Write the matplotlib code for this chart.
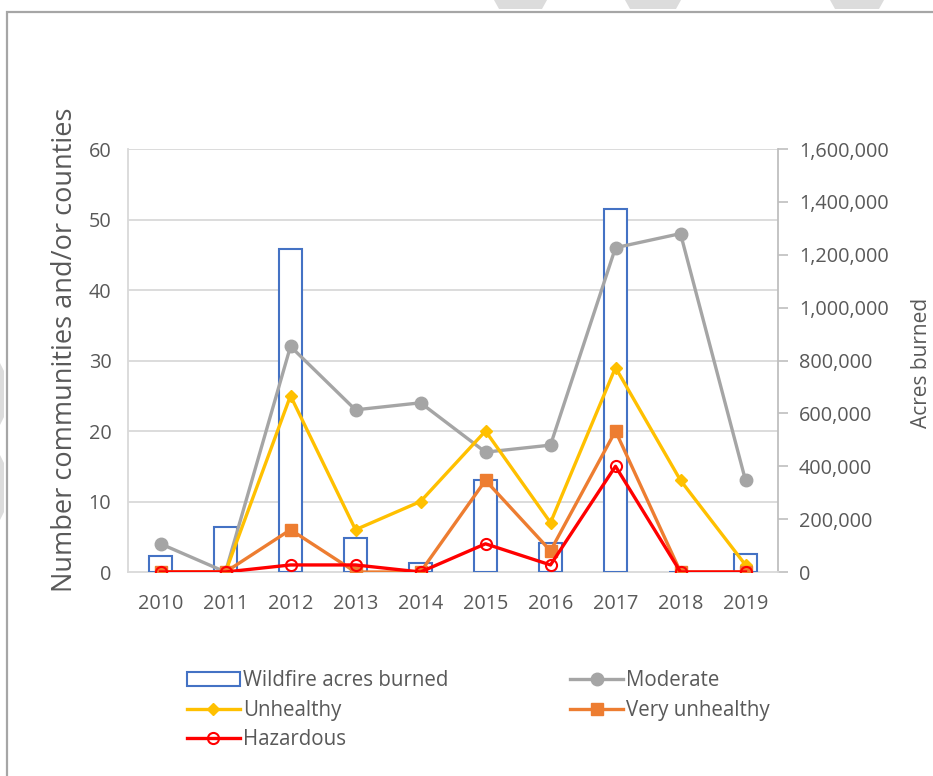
import matplotlib
matplotlib.use("Agg")
import matplotlib.pyplot as plt
from matplotlib.patches import Rectangle, Polygon
from matplotlib.ticker import FuncFormatter, MultipleLocator

plt.rcParams['font.family'] = ['Open Sans', 'DejaVu Sans']

years = ['2010', '2011', '2012', '2013', '2014', '2015', '2016', '2017', '2018', '2019']
acres = [61000, 171000, 1222000, 127000, 35000, 348000, 111000, 1372000, 0, 67000]
moderate = [4, 0, 32, 23, 24, 17, 18, 46, 48, 13]
unhealthy = [0, 0, 25, 6, 10, 20, 7, 29, 13, 1]
very_unhealthy = [0, 0, 6, 0, 0, 13, 3, 20, 0, 0]
hazardous = [0, 0, 1, 1, 0, 4, 1, 15, 0, 0]

TXT = '#595959'
GRID = '#d9d9d9'
TICK_FS = 14.3

W, H = 933, 776
fig = plt.figure(figsize=(W / 100, H / 100), dpi=100)

# decorative frame and background shapes
fig.patches.append(Rectangle((7 / W, -0.05), 1.2, (H - 12) / H + 0.05, transform=fig.transFigure,
                             fill=False, edgecolor='#a6a6a6', linewidth=1.6))
for xs in [(494, 547), (625, 681), (830, 884)]:
    fig.patches.append(Polygon([(xs[0] / W, 1), (xs[1] / W, 1), ((xs[1] - 5) / W, 1 - 9 / H),
                                ((xs[0] + 5) / W, 1 - 9 / H)], closed=True, transform=fig.transFigure,
                               facecolor='#dcdcdc', edgecolor='none'))
for ys in [(363, 425), (455, 520)]:
    fig.patches.append(Polygon([(0, 1 - ys[0] / H), (4 / W, 1 - (ys[0] + 8) / H), (4 / W, 1 - (ys[1] - 8) / H),
                                (0, 1 - ys[1] / H)], closed=True, transform=fig.transFigure,
                               facecolor='#dcdcdc', edgecolor='none'))

left, right, top, bottom = 128, 778, 149, 572
ax = fig.add_axes([left / W, 1 - bottom / H, (right - left) / W, (bottom - top) / H])
ax2 = ax.twinx()

x = list(range(len(years)))

# bars (acres, drawn on lower axes) -> axis shown on right
ax.bar(x, acres, width=0.34, facecolor='white', edgecolor='#4472C4', linewidth=1.5, zorder=3)
ax.set_ylim(0, 1600000)
ax.set_xlim(-0.5, len(years) - 0.5)
ax.yaxis.tick_right()
ax.yaxis.set_label_position('right')
ax.yaxis.set_major_locator(MultipleLocator(200000))
ax.yaxis.set_major_formatter(FuncFormatter(lambda v, p: f'{int(v):,}'))
ax.tick_params(axis='y', direction='out', length=7, color='#bfbfbf', width=1.2,
               labelsize=TICK_FS, labelcolor=TXT, pad=8)
ax.set_ylabel('Acres burned', fontsize=15, color=TXT)
ax.yaxis.set_label_coords((911 - left) / (right - left), (bottom - 363) / (bottom - top))

# gridlines for the counts axis, behind the bars
for g in range(10, 61, 10):
    ax.axhline(g * 1600000 / 60, color=GRID, linewidth=1.3, zorder=1)

ax.set_xticks(x)
ax.set_xticklabels(years)
ax.tick_params(axis='x', length=0, labelsize=TICK_FS, labelcolor=TXT, pad=16)

ax.spines['top'].set_visible(False)
ax.spines['left'].set_color(GRID)
ax.spines['left'].set_linewidth(1.3)
ax.spines['bottom'].set_color(GRID)
ax.spines['bottom'].set_linewidth(1.3)
ax.spines['right'].set_color('#bfbfbf')
ax.spines['right'].set_linewidth(1.3)
for s in ax2.spines.values():
    s.set_visible(False)

# lines on upper axes -> axis shown on left
ax2.yaxis.tick_left()
ax2.yaxis.set_label_position('left')
ax2.set_ylim(0, 60)
ax2.yaxis.set_major_locator(MultipleLocator(10))
ax2.tick_params(axis='y', length=0, labelsize=TICK_FS, labelcolor=TXT, pad=12)
ax2.set_ylabel('Number communities and/or counties', fontsize=19.5, color=TXT)
ax2.yaxis.set_label_coords((79 - left) / (right - left), (bottom - 350) / (bottom - top))

lw = 2.4
l_mod, = ax2.plot(x, moderate, color='#A5A5A5', lw=lw, marker='o', ms=9, zorder=4)
l_unh, = ax2.plot(x, unhealthy, color='#FFC000', lw=lw, marker='D', ms=6.5, zorder=5)
l_vun, = ax2.plot(x, very_unhealthy, color='#ED7D31', lw=lw, marker='s', ms=8, zorder=6)
l_haz, = ax2.plot(x, hazardous, color='#FF0000', lw=lw, marker='o', ms=8, mfc='none', mew=1.5, zorder=7)

bar_handle = Rectangle((0, 0), 1, 1, facecolor='white', edgecolor='#4472C4', linewidth=1.5)
handles = [bar_handle, l_unh, l_haz, l_mod, l_vun]
labels = ['Wildfire acres burned', 'Unhealthy', 'Hazardous', 'Moderate', 'Very unhealthy']
leg = fig.legend(handles, labels, ncol=2, loc='upper left', bbox_to_anchor=(179 / W, 1 - 662 / H),
                 frameon=False, fontsize=14.8, handlelength=2.55, handletextpad=0.15,
                 columnspacing=5.95, labelspacing=0.42, borderaxespad=0)
for t in leg.get_texts():
    t.set_color(TXT)

fig.savefig('out.png', dpi=100)
